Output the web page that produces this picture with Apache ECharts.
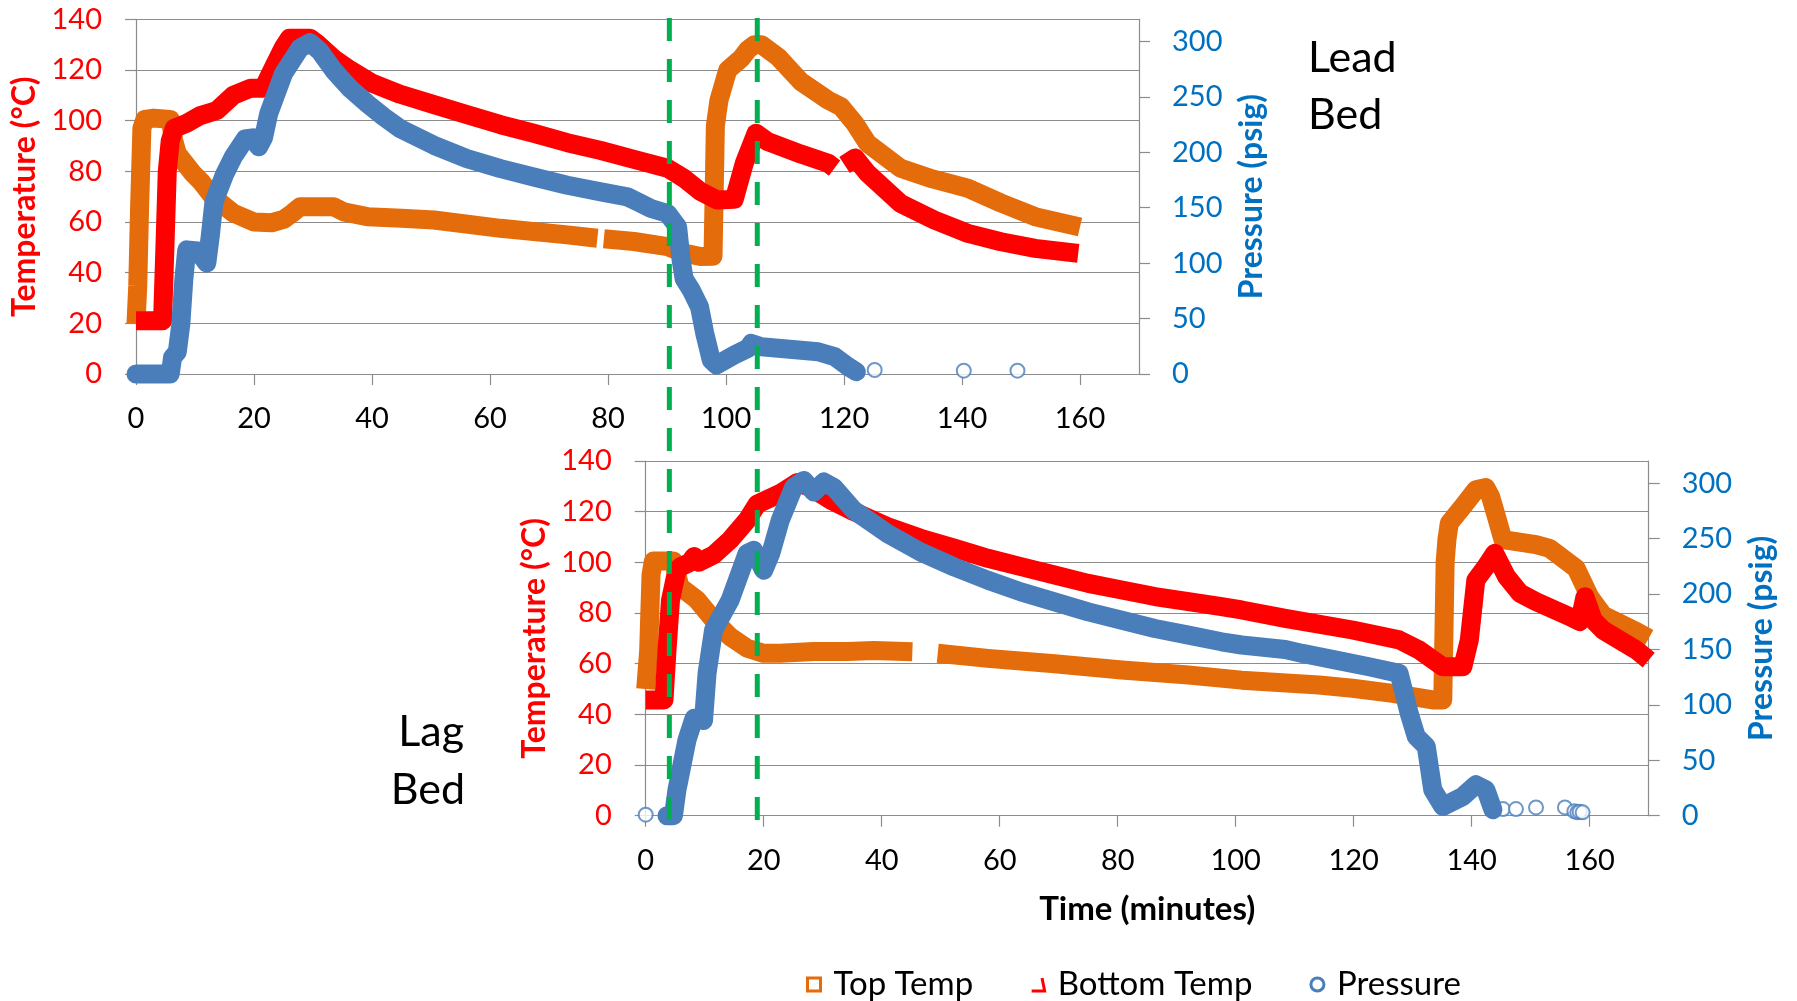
<!DOCTYPE html>
<html>
<head>
<meta charset="utf-8">
<script src="https://cdn.jsdelivr.net/npm/echarts@6/dist/echarts.min.js"></script>
<style>html,body{margin:0;padding:0;background:#fff}#c{width:1797px;height:1001px}</style>
</head>
<body>
<div id="c"></div>
<script>
// ---------- tick values ----------
const timeTicks = [0, 20, 40, 60, 80, 100, 120, 140, 160];
const pressureTicks = [0, 50, 100, 150, 200, 250, 300];
const seriesNames = ['Top Temp', 'Bottom Temp', 'Pressure'];
// event times (in lead-bed minutes) marked by the green dashed lines
const eventTimes = [90.4, 105.3];

// ---------- LEAD BED (upper chart): [minutes, value] ----------
const leadTop = [[0,20],[0.3,35],[0.6,65],[1,97],[1.5,100.5],[3,101],[5.8,100.5],[6.4,92],[7,87],[9.7,79],[11,76],[13,70],[16.5,63.5],[20,60],[23,59.7],[25,61],[26.5,63.5],[27.8,66],[33.5,66],[35.2,64],[39.2,62.1],[45,61.5],[50.5,60.8],[61.8,57.5],[73.1,54.9],[78.2,53.6],[78.8,'-'],[79.3,53.4],[84.4,52.3],[90.1,50.3],[92.9,47.7],[95.7,46.4],[97.8,46.5],[98.2,98],[98.8,108],[100.3,120],[102.6,124.6],[103.7,128],[104.8,130],[106,130],[108.8,125.2],[112.7,115.4],[117.3,108.1],[119.5,105.5],[121.8,99],[124,91],[129.6,81.2],[135,77],[141,73.3],[146.6,67.5],[152.4,62.1],[160,58]];
const leadBottom = [[0,21],[4.5,21],[4.9,50],[5.3,80],[5.8,92],[6.5,97],[8.6,99],[10.9,102],[13.7,104],[16.5,110],[19.4,112.8],[21.6,112.8],[23.3,121],[25,129],[26,132.5],[29.5,132.5],[30.7,130.5],[33.5,124.5],[36.3,120],[40,114.8],[44.8,110.4],[50.5,106.3],[56.1,102.4],[61.8,98.4],[67.4,95],[73.1,91.3],[78.8,88.2],[84.4,84.7],[90.1,81.2],[92.9,77.2],[95.7,72],[98.5,68.7],[101.4,69],[103.1,83.2],[105.1,95],[107.1,91.7],[112.7,86.8],[117.3,83.2],[118.4,81.3],[119.2,'-'],[120.1,82.5],[121.9,85.3],[124,79.2],[129.6,67.3],[135.3,60.8],[141,55.5],[146.6,52.2],[152.4,49.6],[159.7,47.6]];
const leadPressure = [[0,0],[5.8,0],[6.2,15],[7,20],[7.6,45],[8.1,85],[8.6,112],[10.5,111],[12,100],[12.6,125],[13.2,155],[15,180],[16.5,196],[18.5,212],[19.8,213],[20.8,205],[21.6,213],[22.5,235],[25,271],[27.8,294],[29.5,299],[31.2,291],[33.5,274],[36.3,257.4],[39.2,244],[42,232],[44.8,221.3],[50.5,206.3],[56.1,194.3],[61.8,185.3],[67.4,177.7],[73.1,170.3],[78.8,164.3],[83.3,159.8],[85,155.3],[87.3,149.3],[90.1,144.8],[91.8,132.7],[92.4,102.7],[92.9,86],[94.1,75.7],[95.5,60.7],[96.4,36.6],[97.5,12.6],[98.4,8.1],[101.4,17.1],[103.7,23.1],[104.3,27.6],[106,24.6],[115.6,20.1],[118.4,15.6],[120.7,6.6],[122.1,2]];
const leadPressureSparse = [[125.2,3.6],[140.3,3],[149.4,3]];

// ---------- LAG BED (lower chart): [minutes, value] ----------
const lagTop = [[0,50],[0.5,65],[0.9,95],[1.3,100.5],[4.7,100.5],[5.8,90.4],[8.7,85.2],[11.5,77.3],[14.3,70.7],[17.2,66.1],[20,64.1],[22.8,64.1],[28.5,64.8],[34.2,64.8],[38.7,65.2],[45.2,64.7],[47,'-'],[49.5,64.1],[58,62.1],[69.3,60],[80.7,57.5],[92,55.5],[101,53.5],[114.1,51.6],[119.8,50.3],[126.6,48.3],[133.4,45.7],[135.1,45.7],[135.5,100],[135.8,109],[136.2,115.4],[138.5,122],[140.7,128.6],[142.4,129.5],[143.2,126],[144.2,118],[145.3,109],[150.9,107],[153.2,105.5],[157.7,97.6],[160,86.4],[162.3,79.1],[168,72.6],[170,70]];
const lagBottom = [[0,45.7],[3.1,45.7],[3.6,65],[4.2,85],[4.8,91.6],[5.3,97],[5.9,98.2],[7.5,100],[8.2,102.3],[9,100],[11.5,102.9],[14.3,108.8],[17.2,116.7],[18.9,123],[22.8,127.2],[25.7,131.5],[28,129.5],[31.4,124.5],[35.3,120],[41,114.1],[46.6,109.5],[52.3,105.6],[58,101.6],[63.6,98.3],[69.3,95],[75,91.7],[80.7,89.1],[86.3,86.5],[92,84.5],[97.6,82.5],[101,81.2],[108.4,77.9],[119.8,73.3],[127.7,69.4],[131.1,65.4],[135.1,58.8],[138.5,58.8],[139.6,69.4],[140.7,93],[142.4,98.3],[143.9,103.6],[145.9,94.4],[148.2,87.8],[150.9,84.5],[156.6,78.6],[158.3,76.6],[159.2,86.4],[160.6,77.2],[162.3,73.2],[167.9,65.4],[170,61.4]];
const lagPressure = [[3.6,0],[4.7,0],[5.3,23.4],[7,68.4],[8.2,87.9],[9.8,86],[10.4,128.4],[11.5,167.4],[14.3,194.4],[17.2,236.7],[18.3,239.4],[20,221.4],[21.2,236.7],[22.8,266.4],[25.1,296.4],[26.8,302.4],[28.5,292],[30.2,301],[31.9,296],[35.3,275.4],[41,254.5],[46.6,237.9],[52.3,224.4],[58,212.4],[63.6,201.9],[69.3,192.9],[75,183.9],[80.7,176.4],[86.3,168.9],[92,162.9],[97.6,156.9],[101,154],[108.4,150],[111.3,146.4],[117,140.4],[122.6,134.4],[127.7,128.4],[129.4,92.4],[130.6,71.4],[132.3,62.4],[133.4,23.4],[135.1,8.4],[138.5,17.4],[140.7,27.9],[142.4,23.4],[143.6,5.4]];
const lagPressureSparse = [[0,0.9],[145.3,6],[147.5,6],[150.9,7.5],[155.8,7.5],[157.4,4],[157.9,3],[158.3,3.5],[158.8,3]];

// ---------- styling ----------
const ORANGE = '#E46C0A', RED = '#FF0000', BLUE = '#4A7EBB', TICKBLUE = '#0070C0', GRIDC = '#8C8C8C', GREEN = '#00B050';
const FONT = 'Lato';
const LW = 19;

function xAxisCfg(gi, withName) {
  const a = {
    type: 'value', gridIndex: gi, min: 0, max: 170, interval: 20,
    axisLine: { show: true, onZero: false, lineStyle: { color: GRIDC, width: 1.2 } },
    axisTick: { show: true, length: 11, customValues: timeTicks, lineStyle: { color: GRIDC, width: 1.2 } },
    axisLabel: { color: '#000', fontSize: 29, margin: 30, fontFamily: FONT, customValues: timeTicks },
    splitLine: { show: false }
  };
  if (withName) {
    a.name = 'Time (minutes)';
    a.nameLocation = 'middle';
    a.nameGap = 77;
    a.nameTextStyle = { color: '#000', fontSize: 33, fontWeight: 'bold', fontFamily: FONT };
  }
  return a;
}
function tempAxisCfg(gi) {
  return {
    type: 'value', gridIndex: gi, position: 'left', min: 0, max: 140, interval: 20,
    axisLine: { show: true, lineStyle: { color: GRIDC, width: 1.2 } },
    axisTick: { show: true, length: 11, lineStyle: { color: GRIDC, width: 1.2 } },
    axisLabel: { color: RED, fontSize: 29, margin: 34, fontFamily: FONT },
    splitLine: { show: true, lineStyle: { color: GRIDC, width: 1.2 } },
    name: 'Temperature (°C)', nameLocation: 'middle', nameRotate: 90, nameGap: 95,
    nameTextStyle: { color: RED, fontSize: 32, fontWeight: 'bold', fontFamily: FONT }
  };
}
function pressAxisCfg(gi) {
  return {
    type: 'value', gridIndex: gi, position: 'right', min: 0, max: 320, interval: 50,
    axisLine: { show: true, lineStyle: { color: GRIDC, width: 1.2 } },
    axisTick: { show: true, length: 11, customValues: pressureTicks, lineStyle: { color: GRIDC, width: 1.2 } },
    axisLabel: { color: TICKBLUE, fontSize: 29, margin: 33, fontFamily: FONT, customValues: pressureTicks },
    splitLine: { show: false },
    name: 'Pressure (psig)', nameLocation: 'middle', nameRotate: 90, nameGap: 97,
    nameTextStyle: { color: TICKBLUE, fontSize: 32, fontWeight: 'bold', fontFamily: FONT }
  };
}
function lineS(name, data, color, xi, yi, cap) {
  return {
    type: 'line', name, data, xAxisIndex: xi, yAxisIndex: yi, symbol: 'none',
    connectNulls: false, clip: false, silent: true,
    lineStyle: { color, width: LW, cap, join: 'round' }, itemStyle: { color }
  };
}
function sparseS(name, data, color, xi, yi) {
  return {
    type: 'scatter', name, data, xAxisIndex: xi, yAxisIndex: yi, symbol: 'emptyCircle',
    symbolSize: 14, silent: true, itemStyle: { color, borderColor: color, borderWidth: 3 }
  };
}
function eventS(t) {
  return {
    type: 'line', data: [[t, 1], [t, 0]], xAxisIndex: 2, yAxisIndex: 4, symbol: 'none', silent: true,
    lineStyle: { color: GREEN, width: 5, type: [23, 18] }, z: 5
  };
}

const chart = echarts.init(document.getElementById('c'), null, { renderer: 'canvas' });
chart.setOption({
  animation: false,
  backgroundColor: '#fff',
  textStyle: { fontFamily: FONT },
  grid: [
    { left: 136, top: 19.3, width: 1003, height: 354.7 },
    { left: 645.7, top: 461, width: 1003, height: 354.7 },
    { left: 136, top: 18, width: 1003, height: 820 }
  ],
  xAxis: [
    xAxisCfg(0, false),
    xAxisCfg(1, true),
    { type: 'value', gridIndex: 2, min: 0, max: 170, show: false }
  ],
  yAxis: [
    tempAxisCfg(0), pressAxisCfg(0), tempAxisCfg(1), pressAxisCfg(1),
    { type: 'value', gridIndex: 2, min: 0, max: 1, show: false }
  ],
  legend: {
    left: 801, top: 963, itemWidth: 13, itemHeight: 13, itemGap: 57, selectedMode: false,
    textStyle: { fontSize: 33, color: '#000', fontFamily: FONT, padding: [0, 0, 0, 8] },
    data: [
      { name: seriesNames[0], icon: 'rect', itemStyle: { color: '#fff', borderColor: ORANGE, borderWidth: 3 } },
      { name: seriesNames[1], icon: 'path://M0,10L10,10L8,0', itemStyle: { color: 'rgba(0,0,0,0)', borderColor: RED, borderWidth: 3 } },
      { name: seriesNames[2], icon: 'circle', itemStyle: { color: '#fff', borderColor: BLUE, borderWidth: 3 } }
    ]
  },
  graphic: [
    { type: 'text', left: 1308, top: 30, style: { text: 'Lead\nBed', font: '43px Lato', fill: '#000', lineHeight: 57 } },
    { type: 'text', right: 1333, top: 703, style: { text: 'Lag', font: '43px Lato', fill: '#000', lineHeight: 58 } },
    { type: 'text', right: 1332, top: 761, style: { text: 'Bed', font: '43px Lato', fill: '#000', lineHeight: 58 } }
  ],
  series: [
    lineS(seriesNames[0], leadTop, ORANGE, 0, 0, 'butt'),
    lineS(seriesNames[1], leadBottom, RED, 0, 0, 'butt'),
    lineS(seriesNames[2], leadPressure, BLUE, 0, 1, 'round'),
    sparseS(seriesNames[2], leadPressureSparse, BLUE, 0, 1),
    lineS(seriesNames[0], lagTop, ORANGE, 1, 2, 'butt'),
    lineS(seriesNames[1], lagBottom, RED, 1, 2, 'butt'),
    lineS(seriesNames[2], lagPressure, BLUE, 1, 3, 'round'),
    sparseS(seriesNames[2], lagPressureSparse, BLUE, 1, 3),
    eventS(eventTimes[0]),
    eventS(eventTimes[1])
  ]
});
</script>
</body>
</html>
